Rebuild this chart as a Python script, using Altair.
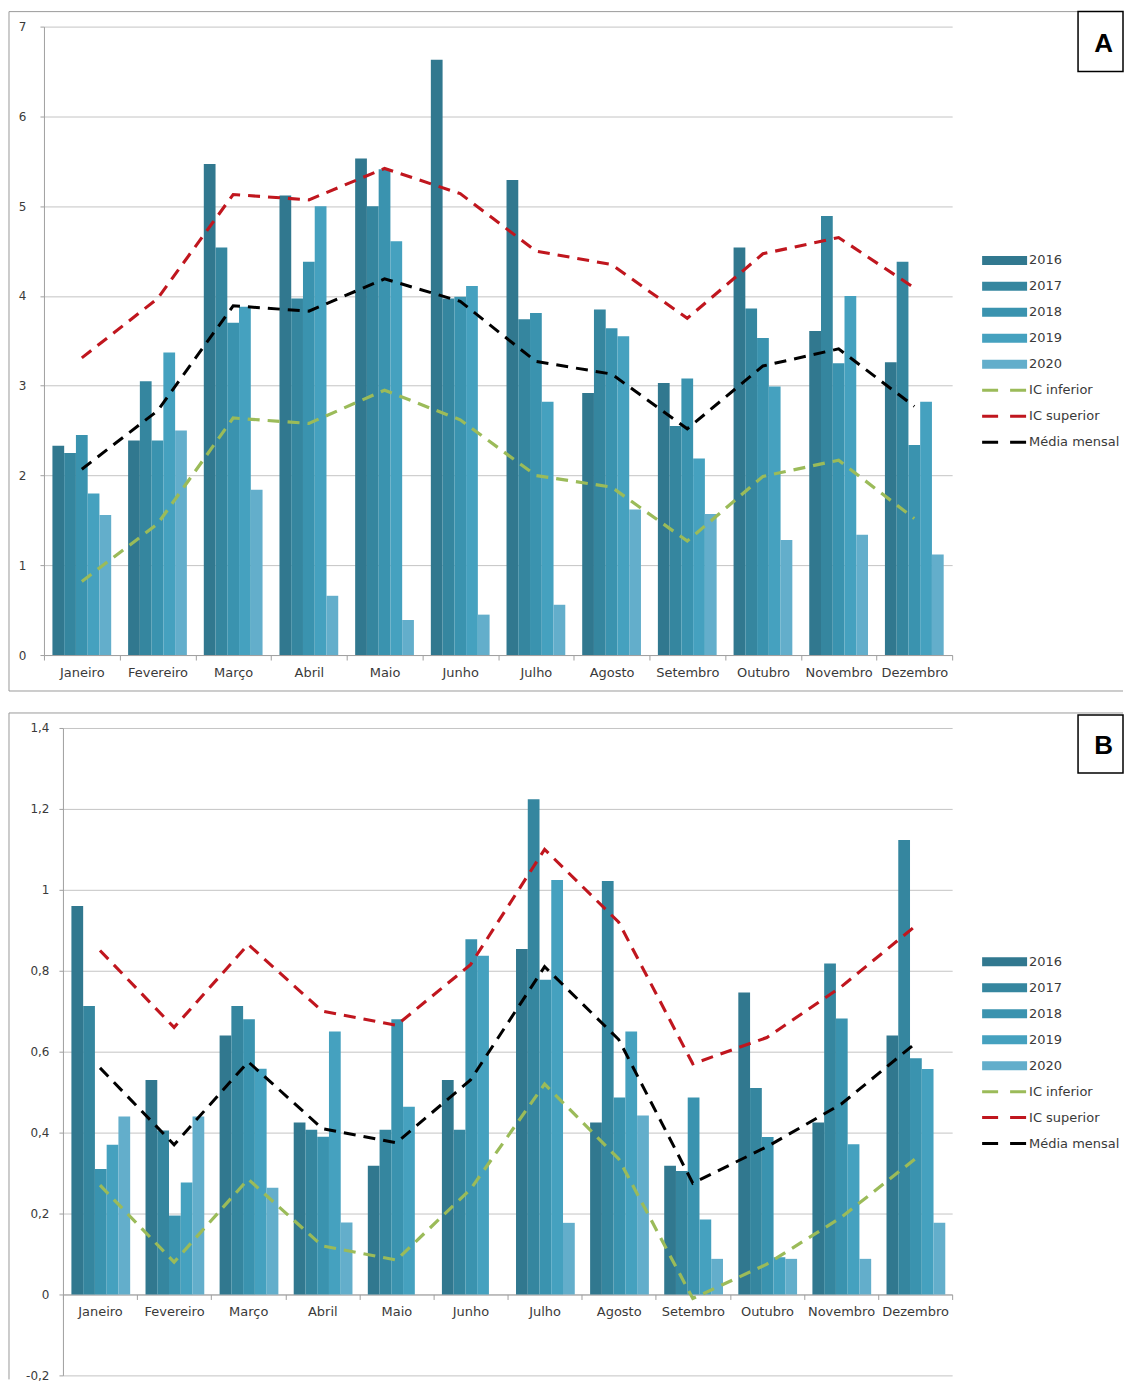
import altair as alt
import pandas as pd

months = ["Janeiro", "Fevereiro", "Março", "Abril", "Maio", "Junho",
          "Julho", "Agosto", "Setembro", "Outubro", "Novembro", "Dezembro"]
years = ["2016", "2017", "2018", "2019", "2020"]
bar_colors = ["#31788F", "#35869F", "#3A93AF", "#45A1BF", "#63AECB"]
series_names = ["IC inferior", "IC superior", "Média mensal"]
series_colors = ["#9BBB59", "#C0161E", "#000000"]

# ---- Panel A ----
A_2016 = [2.33, 2.39, 5.47, 5.12, 5.53, 6.63, 5.29, 2.92, 3.03, 4.54, 3.61, 3.26]
A_2017 = [2.25, 3.05, 4.54, 3.97, 5.00, 3.97, 3.74, 3.85, 2.55, 3.86, 4.89, 4.38]
A_2018 = [2.45, 2.39, 3.70, 4.38, 5.41, 3.99, 3.81, 3.64, 3.08, 3.53, 3.25, 2.34]
A_2019 = [1.80, 3.37, 3.88, 5.00, 4.61, 4.11, 2.82, 3.55, 2.19, 2.99, 4.00, 2.82]
A_2020 = [1.56, 2.50, 1.84, 0.66, 0.39, 0.45, 0.56, 1.62, 1.57, 1.28, 1.34, 1.12]
A_lo = [0.82, 1.46, 2.64, 2.58, 2.95, 2.62, 2.00, 1.87, 1.27, 1.99, 2.17, 1.52]
A_hi = [3.31, 3.97, 5.13, 5.07, 5.42, 5.14, 4.50, 4.35, 3.75, 4.47, 4.65, 4.09]
A_mean = [2.07, 2.72, 3.89, 3.83, 4.19, 3.94, 3.27, 3.13, 2.52, 3.22, 3.41, 2.77]
A_ticks = [0, 1, 2, 3, 4, 5, 6, 7]

# ---- Panel B ----
B_2016 = [0.96, 0.53, 0.64, 0.425, 0.318, 0.53, 0.854, 0.425, 0.318, 0.746, 0.425, 0.64]
B_2017 = [0.713, 0.405, 0.713, 0.407, 0.407, 0.407, 1.224, 1.022, 0.305, 0.51, 0.818, 1.123]
B_2018 = [0.31, 0.195, 0.68, 0.39, 0.68, 0.878, 0.778, 0.487, 0.487, 0.389, 0.682, 0.584]
B_2019 = [0.37, 0.277, 0.558, 0.65, 0.464, 0.837, 1.024, 0.65, 0.185, 0.092, 0.371, 0.557]
B_2020 = [0.44, 0.44, 0.264, 0.178, None, None, 0.177, 0.442, 0.088, 0.088, 0.088, 0.177]
B_lo = [0.27, 0.08, 0.285, 0.12, 0.085, 0.26, 0.52, 0.335, -0.01, 0.075, 0.19, 0.335]
B_hi = [0.85, 0.66, 0.865, 0.70, 0.665, 0.815, 1.10, 0.92, 0.57, 0.635, 0.76, 0.91]
B_mean = [0.56, 0.37, 0.575, 0.41, 0.375, 0.53, 0.81, 0.63, 0.275, 0.365, 0.47, 0.62]
B_ticks = [-0.2, 0, 0.2, 0.4, 0.6, 0.8, 1.0, 1.2, 1.4]

FONT = "DejaVu Sans"
TXT = "#3a3a3a"
FRAME = "#9a9a9a"

# layout (pixels relative to each panel's plot origin, which sits at page x=43)
W = 909
FRAME_LEFT = 35
FRAME_RIGHT = 1080
LEG_X = 955


def bars_df(series):
    rows = []
    for y, vals in zip(years, series):
        for m, v in zip(months, vals):
            if v is not None:
                rows.append({"mes": m, "ano": y, "valor": v})
    return pd.DataFrame(rows)


def lines_df(lo, hi, mean):
    rows = []
    for name, vals in zip(series_names, [lo, hi, mean]):
        for i, (m, v) in enumerate(zip(months, vals)):
            rows.append({"mes": m, "serie": name, "valor": v, "idx": i})
    return pd.DataFrame(rows)


one = pd.DataFrame({"k": [0]})


def panel(bdf, ldf, x0, H, ymin, ymax, ticks, frame_bottom, box, letter, ylabpad,
          draw_bottom):
    zero_off = H * (0 - ymin) / (ymax - ymin)
    xenc = alt.X("mes:N", sort=months,
                 scale=alt.Scale(paddingInner=0, paddingOuter=0, range=[x0, W]),
                 axis=alt.Axis(title=None, labelAngle=0, tickBand="extent",
                               tickSize=5, labelPadding=6, offset=-zero_off,
                               domainColor="#a0a0a0", tickColor="#a0a0a0",
                               labelFontSize=13, labelFont=FONT, labelColor=TXT,
                               grid=False))
    yenc = alt.Y("valor:Q",
                 scale=alt.Scale(domain=[ymin, ymax], nice=False, zero=False),
                 axis=alt.Axis(title=None, values=ticks, grid=True, tickSize=4,
                               offset=-x0,
                               labelPadding=ylabpad, gridColor="#c4c4c4",
                               domainColor="#a0a0a0", tickColor="#a0a0a0",
                               labelFontSize=12, labelFont=FONT, labelColor=TXT,
                               labelExpr="replace(toString(round(datum.value*10)/10), '.', ',')"))
    bars = alt.Chart(bdf).mark_bar().encode(
        x=xenc,
        xOffset=alt.XOffset("ano:N", sort=years,
                            scale=alt.Scale(paddingOuter=0.72, paddingInner=0)),
        y=yenc,
        fill=alt.Fill("ano:N", sort=years,
                      scale=alt.Scale(domain=years, range=bar_colors),
                      legend=alt.Legend(title=None, orient="none",
                                        legendX=LEG_X, legendY=227.5,
                                        symbolType="M-5,-1H5V1H-5Z", symbolSize=81,
                                        symbolStrokeWidth=0, labelOffset=18,
                                        rowPadding=12, labelFontSize=13,
                                        labelFont=FONT, labelColor=TXT)),
    )
    lines = alt.Chart(ldf).mark_line(strokeDash=[12, 8], strokeCap="butt").encode(
        x=alt.X("mes:N", sort=months),
        y=alt.Y("valor:Q"),
        stroke=alt.Stroke("serie:N", sort=series_names,
                          scale=alt.Scale(domain=series_names, range=series_colors),
                          legend=alt.Legend(title=None, orient="none",
                                            legendX=LEG_X, legendY=357.5,
                                            symbolType="M-5,0H5", symbolSize=81,
                                            symbolStrokeWidth=3,
                                            symbolDash=[16, 12],
                                            symbolFillColor="transparent",
                                            labelOffset=18, rowPadding=12,
                                            labelFontSize=13, labelFont=FONT,
                                            labelColor=TXT)),
        strokeWidth=alt.StrokeWidth("serie:N",
                                    scale=alt.Scale(domain=series_names, range=[3.2, 3.0, 4.0]),
                                    legend=None),
        order=alt.Order("idx:Q"),
    )
    top = alt.Chart(one).mark_rule(color=FRAME, strokeWidth=1).encode(
        x=alt.value(-FRAME_LEFT), x2=alt.value(FRAME_RIGHT), y=alt.value(-15))
    left = alt.Chart(one).mark_rule(color=FRAME, strokeWidth=1).encode(
        x=alt.value(-FRAME_LEFT), y=alt.value(-15), y2=alt.value(frame_bottom))
    layers = [top, left]
    if draw_bottom:
        layers.append(alt.Chart(one).mark_rule(color=FRAME, strokeWidth=1).encode(
            x=alt.value(-FRAME_LEFT), x2=alt.value(FRAME_RIGHT), y=alt.value(frame_bottom)))
    bx0, by0, bx1, by1 = box
    boxmark = alt.Chart(one).mark_rect(fill="white", stroke="#000000", strokeWidth=1.5).encode(
        x=alt.value(bx0), x2=alt.value(bx1), y=alt.value(by0), y2=alt.value(by1))
    txt = alt.Chart(one).mark_text(font="Liberation Sans", fontWeight="bold", fontSize=26,
                                   align="center", baseline="middle", color="#000000").encode(
        x=alt.value((bx0 + bx1) / 2 + 3), y=alt.value((by0 + by1) / 2 + 2),
        text=alt.value(letter))
    return alt.layer(*layers, bars, lines, boxmark, txt).resolve_scale(
        fill="independent", stroke="independent").properties(width=W, height=H)


chart_a = panel(bars_df([A_2016, A_2017, A_2018, A_2019, A_2020]),
                lines_df(A_lo, A_hi, A_mean),
                0, 629, 0, 7, A_ticks, frame_bottom=665,
                box=(1035, -15, FRAME_RIGHT, 45), letter="A", ylabpad=14,
                draw_bottom=True)

chart_b = panel(bars_df([B_2016, B_2017, B_2018, B_2019, B_2020]),
                lines_df(B_lo, B_hi, B_mean),
                19, 648, -0.2, 1.4, B_ticks, frame_bottom=652,
                box=(1035, -13, FRAME_RIGHT, 45), letter="B", ylabpad=10,
                draw_bottom=False)

chart = alt.vconcat(chart_a, chart_b, spacing=20).properties(
    padding={"left": 0, "top": 2, "right": 0, "bottom": 0}
).configure_view(stroke=None)

chart.save("out.html", embed_options={"renderer": "svg", "actions": False})
